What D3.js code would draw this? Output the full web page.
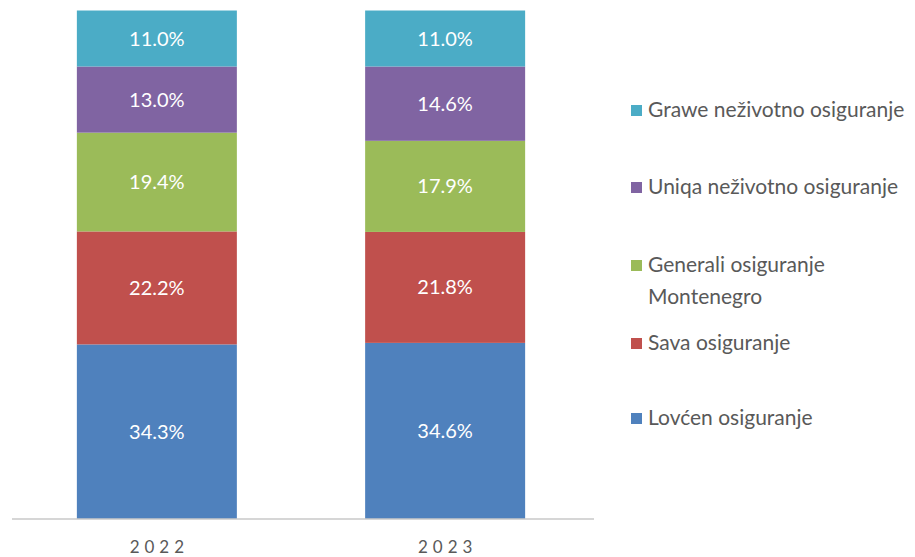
<!DOCTYPE html>
<html>
<head>
<meta charset="utf-8">
<script src="https://cdn.jsdelivr.net/npm/d3@7"></script>
<style>
  body { margin: 0; background: #fff; }
  text { font-family: Lato, "Open Sans", sans-serif; }
</style>
</head>
<body>
<div id="chart"></div>
<script>
const years = ["2022", "2023"];
const companies = ["Lovćen osiguranje", "Sava osiguranje", "Generali osiguranje Montenegro", "Uniqa neživotno osiguranje", "Grawe neživotno osiguranje"];
const shares2022 = [34.3, 22.2, 19.4, 13.0, 11.0];
const shares2023 = [34.6, 21.8, 17.9, 14.6, 11.0];
const colors = ["#4f81bd", "#c0504d", "#9bbb59", "#8064a2", "#4bacc6"];
const legendLines = [["Lovćen osiguranje"], ["Sava osiguranje"], ["Generali osiguranje", "Montenegro"], ["Uniqa neživotno osiguranje"], ["Grawe neživotno osiguranje"]];

const width = 915, height = 557;
const margin = {top: 10, right: 321, bottom: 38, left: 12};

const rows = years.map((y, i) => {
    const vals = i === 0 ? shares2022 : shares2023;
    const r = {year: y};
    companies.forEach((c, j) => r[c] = vals[j]);
    return r;
});

const series = d3.stack().keys(companies)(rows);

// band scale -> bars about 160px wide, centred at ~157 and ~446
const x = d3.scaleBand(years, [margin.left, 590])
    .paddingInner(0.445).paddingOuter(0.225);
const y = d3.scaleLinear([0, 100], [height - margin.bottom, margin.top]);

const color = d3.scaleOrdinal(companies, colors);

const svg = d3.select("#chart")
    .append("svg")
    .attr("width", width)
    .attr("height", height);

svg.append("g")
    .selectAll("g")
    .data(series)
    .join("g")
    .attr("fill", d => color(d.key))
    .selectAll("rect")
    .data(d => d)
    .join("rect")
    .attr("x", d => x(d.data.year))
    .attr("width", x.bandwidth())
    .attr("y", d => y(d[1]))
    .attr("height", d => y(d[0]) - y(d[1]));

// segment labels
svg.append("g")
    .attr("font-size", 20)
    .attr("fill", "#fff")
    .attr("text-anchor", "middle")
    .selectAll("g")
    .data(series)
    .join("g")
    .selectAll("text")
    .data(d => d)
    .join("text")
    .attr("x", d => x(d.data.year) + x.bandwidth() / 2)
    .attr("y", d => (y(d[0]) + y(d[1])) / 2)
    .attr("dy", "0.35em")
    .text(d => (d[1] - d[0]).toFixed(1) + "%");

// x axis
const axis = svg.append("g")
    .attr("transform", `translate(0,${height - margin.bottom})`)
    .call(d3.axisBottom(x).tickSize(0).tickPadding(22));
axis.select(".domain")
    .attr("stroke", "#c8c8c8")
    .attr("stroke-width", 1.5)
    .attr("d", `M${margin.left},0H${width - margin.right}`);
axis.selectAll(".tick text")
    .attr("font-size", 17)
    .attr("fill", "#595959")
    .attr("letter-spacing", "5px")
    .attr("dx", "2.5px")
    .style("font-family", "Lato, sans-serif");

// legend, top to bottom (Grawe first)
const legendY = {"Grawe neživotno osiguranje": 110, "Uniqa neživotno osiguranje": 187,
    "Generali osiguranje Montenegro": 265, "Sava osiguranje": 343, "Lovćen osiguranje": 418};
const legend = svg.append("g")
    .attr("font-size", 21)
    .attr("fill", "#595959")
    .selectAll("g")
    .data(companies)
    .join("g")
    .attr("transform", d => `translate(631,${legendY[d]})`);

legend.append("rect")
    .attr("x", 0)
    .attr("y", -5)
    .attr("width", 11)
    .attr("height", 11)
    .attr("fill", d => color(d));

legend.append("text")
    .selectAll("tspan")
    .data((d, i) => legendLines[i])
    .join("tspan")
    .attr("x", 17)
    .attr("dy", (d, i) => i === 0 ? "0.35em" : "1.5em")
    .text(d => d);
</script>
</body>
</html>
